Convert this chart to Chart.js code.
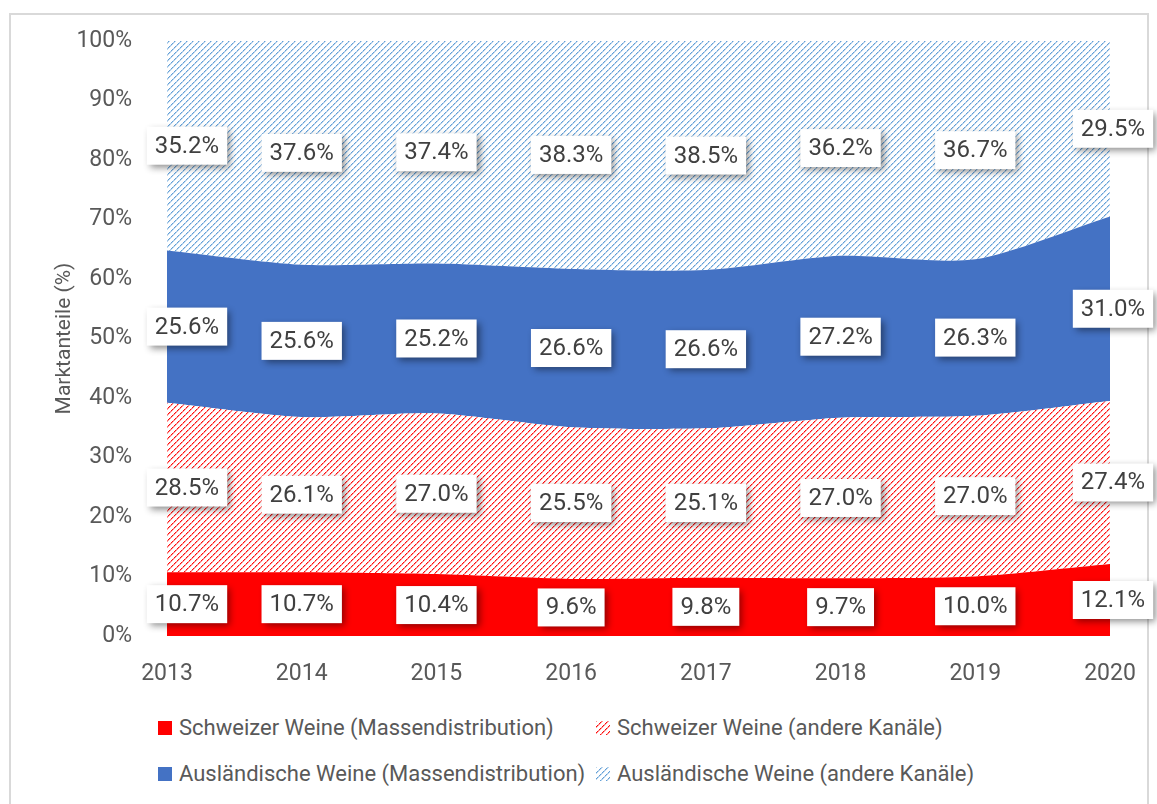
<!DOCTYPE html>
<html>
<head>
<meta charset="utf-8">
<script src="https://cdn.jsdelivr.net/npm/chart.js@4/dist/chart.umd.min.js"></script>
<style>
  html, body { margin: 0; padding: 0; background: #fff; }
  #frame { position: absolute; left: 9px; top: 13px; width: 1140px; height: 800px; border: 2px solid #d9d9d9; box-sizing: border-box; }
  #wrap { position: absolute; left: 0; top: 0; width: 1157px; height: 700px; }
  .legend { position: absolute; font-family: Roboto, sans-serif; font-size: 22px; color: #595959; white-space: nowrap; }
  .legend canvas, .legend span.sw { display: inline-block; width: 14px; height: 14px; vertical-align: 0px; margin-right: 7px; }
</style>
</head>
<body>
<div id="frame"></div>
<div id="wrap"><canvas id="chart"></canvas></div>
<div class="legend" style="left:158px; top:715px;"><span class="sw" style="background:#ff0000"></span>Schweizer Weine (Massendistribution)</div>
<div class="legend" style="left:596px; top:715px;"><canvas id="sw2" width="14" height="14"></canvas>Schweizer Weine (andere Kanäle)</div>
<div class="legend" style="left:158px; top:761px;"><span class="sw" style="background:#4472c4"></span>Ausländische Weine (Massendistribution)</div>
<div class="legend" style="left:596px; top:761px;"><canvas id="sw4" width="14" height="14"></canvas>Ausländische Weine (andere Kanäle)</div>
<script>
const years = ['2013', '2014', '2015', '2016', '2017', '2018', '2019', '2020'];
const swissMass = [10.7, 10.7, 10.4, 9.6, 9.8, 9.7, 10.0, 12.1];
const swissOther = [28.5, 26.1, 27.0, 25.5, 25.1, 27.0, 27.0, 27.4];
const foreignMass = [25.6, 25.6, 25.2, 26.6, 26.6, 27.2, 26.3, 31.0];
const foreignOther = [35.2, 37.6, 37.4, 38.3, 38.5, 36.2, 36.7, 29.5];

const FONT = 'Roboto, sans-serif';
const GREY = '#595959';

// diagonal hatch ("/"), drawn pixel by pixel so it stays crisp
function hatch(color) {
  const n = 6;
  const c = document.createElement('canvas');
  c.width = n; c.height = n;
  const g = c.getContext('2d');
  g.fillStyle = '#fff';
  g.fillRect(0, 0, n, n);
  g.fillStyle = color;
  for (let i = 0; i < n; i++) {
    const y = n - 1 - i;
    g.globalAlpha = (i % 3 === 2) ? 0.55 : 0.95;
    g.fillRect(i, y, 1, 1);
    g.globalAlpha = 0.4;
    g.fillRect((i + 1) % n, y, 1, 1);
  }
  return g.createPattern(c, 'repeat');
}

function drawSwatch(id, color) {
  const g = document.getElementById(id).getContext('2d');
  g.fillStyle = hatch(color);
  g.fillRect(0, 0, 14, 14);
}
drawSwatch('sw2', '#ff0000');
drawSwatch('sw4', '#5b9bd5');

const labelPlugin = {
  id: 'boxLabels',
  afterDatasetsDraw(chart) {
    const ctx = chart.ctx;
    const xs = chart.scales.x, ys = chart.scales.y;
    const sets = chart.data.datasets;
    ctx.save();
    ctx.font = '24px ' + FONT;
    ctx.textAlign = 'center';
    ctx.textBaseline = 'middle';
    for (let d = 0; d < sets.length; d++) {
      for (let i = 0; i < years.length; i++) {
        let below = 0;
        for (let k = 0; k < d; k++) below += sets[k].data[i];
        const v = sets[d].data[i];
        let x = xs.getPixelForValue(i);
        if (i === 0) x += 20;
        if (i === years.length - 1) x += 3;
        const y = ys.getPixelForValue(below + v / 2);
        const txt = v.toFixed(1) + '%';
        const w = ctx.measureText(txt).width + 16;
        const h = 38;
        ctx.save();
        ctx.shadowColor = 'rgba(0,0,0,0.45)';
        ctx.shadowBlur = 7;
        ctx.shadowOffsetX = 3;
        ctx.shadowOffsetY = 3;
        ctx.fillStyle = '#fff';
        ctx.fillRect(x - w / 2, y - h / 2, w, h);
        ctx.restore();
        ctx.fillStyle = '#404040';
        ctx.fillText(txt, x, y + 1);
      }
    }
    ctx.restore();
  }
};

function area(label, data, fill, color) {
  return {
    label: label,
    data: data,
    fill: fill,
    backgroundColor: color,
    borderWidth: 0,
    pointRadius: 0,
    tension: 0.25
  };
}

new Chart(document.getElementById('chart'), {
  type: 'line',
  data: {
    labels: years,
    datasets: [
      area('Schweizer Weine (Massendistribution)', swissMass, 'origin', '#ff0000'),
      area('Schweizer Weine (andere Kanäle)', swissOther, '-1', hatch('#ff0000')),
      area('Ausländische Weine (Massendistribution)', foreignMass, '-1', '#4472c4'),
      area('Ausländische Weine (andere Kanäle)', foreignOther, '-1', hatch('#5b9bd5'))
    ]
  },
  options: {
    responsive: true,
    maintainAspectRatio: false,
    animation: false,
    layout: { padding: { top: 41, right: 47, left: 52, bottom: 0 } },
    plugins: {
      legend: { display: false },
      tooltip: { enabled: false }
    },
    scales: {
      x: {
        grid: { display: false },
        border: { display: false },
        ticks: { color: GREY, font: { family: FONT, size: 23 }, padding: 16 },
        afterFit(s) { s.height = 64; }
      },
      y: {
        stacked: true,
        min: 0,
        max: 100,
        grid: { display: false },
        border: { display: false },
        ticks: {
          stepSize: 10,
          color: GREY,
          padding: 27,
          font: { family: FONT, size: 23 },
          callback: v => v + '%'
        },
        title: {
          display: true,
          text: 'Marktanteile (%)',
          color: GREY,
          padding: 0,
          font: { family: FONT, size: 21 }
        },
        afterFit(s) { s.width = 115; }
      }
    }
  },
  plugins: [labelPlugin]
});
</script>
</body>
</html>
